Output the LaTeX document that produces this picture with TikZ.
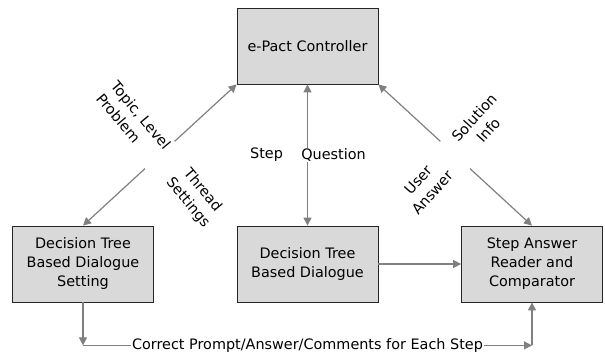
\documentclass[tikz,border=0pt]{standalone}
\usepackage{fontspec}
\setmainfont{DejaVu Sans}
\usetikzlibrary{arrows.meta}
\tikzset{
  procbox/.style = {align=center, draw=black!85, fill=gray!30, line width=0.8pt, minimum width=141pt, minimum height=76pt, font=\fontsize{14.4}{19}\selectfont},
  flowline/.style = {draw=gray, line width=1.2pt, -{Triangle[length=8pt,width=8pt]}},
  twoway/.style = {flowline, {Triangle[length=8pt,width=8pt]}-{Triangle[length=8pt,width=8pt]}},
  plainlabel/.style = {inner sep=1pt, font=\fontsize{14.4}{19}\selectfont},
  flowlabel/.style = {plainlabel, fill=white}
}

\begin{document}
\begin{tikzpicture}[x=1pt, y=-1pt]
  \useasboundingbox (0,0) rectangle (605,352);
  % boxes
  \node [procbox] (ctrl) at (307.5,46) {e-Pact Controller};
  \node [procbox] (setting) at (83,264) {Decision Tree\\Based Dialogue\\Setting};
  \node [procbox] (dialogue) at (307.5,264) {Decision Tree\\Based Dialogue};
  \node [procbox] (compare) at (532,264) {Step Answer\\Reader and\\Comparator};
  % connectors
  \draw [twoway] (ctrl.south west) -- node [flowlabel, rotate=-50]
    {\begin{tabular}{@{}l@{\hspace{26pt}}c@{}}Topic, Level & Thread\\Problem & Settings\end{tabular}} (setting.north);
  \draw [twoway] (ctrl.south east) -- node [flowlabel, rotate=48]
    {\begin{tabular}{@{}c@{\hspace{28pt}}c@{}}User & Solution\\Answer & Info\end{tabular}} (compare.north);
  \draw [twoway] (ctrl) -- node [flowlabel, xshift=26pt] {Question}
    node [plainlabel, xshift=-41pt] {Step} (dialogue);
  \draw [flowline] (dialogue) -- (compare);
  \coordinate (bl) at ([yshift=-43pt]setting.south);
  \coordinate (br) at ([yshift=-43pt]compare.south);
  \draw [flowline] (setting.south) -- (bl);
  \draw [flowline] (bl) -- node [flowlabel] {Correct Prompt/Answer/Comments for Each Step} (br);
  \draw [flowline] (br) -- (compare.south);
\end{tikzpicture}
\end{document}
